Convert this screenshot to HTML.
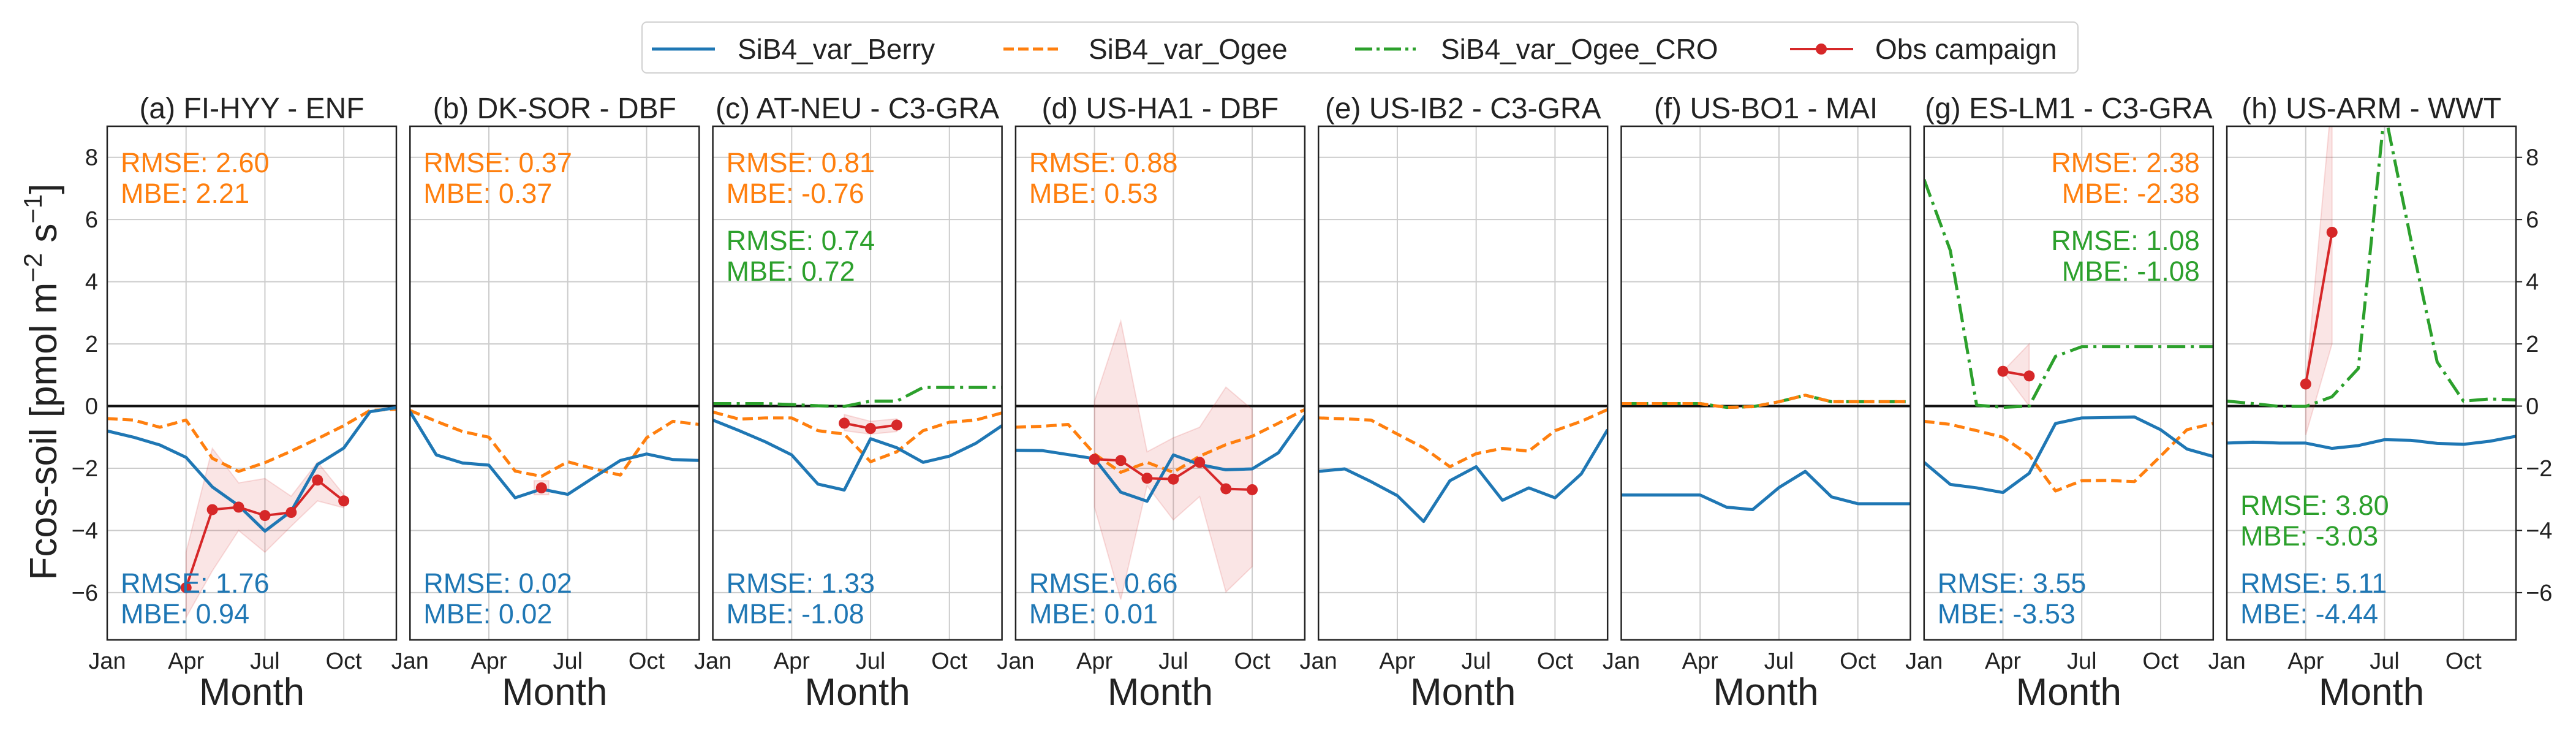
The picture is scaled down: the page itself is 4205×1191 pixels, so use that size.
<!DOCTYPE html>
<html><head><meta charset="utf-8"><style>
html,body{margin:0;padding:0;background:#fff;}
svg text{font-family:"Liberation Sans",Arial,sans-serif;}
</style></head><body>
<svg id="chart" xmlns="http://www.w3.org/2000/svg" width="4205" height="1186" viewBox="0 0 4205 1186">
<rect x="0" y="0" width="4205" height="1186" fill="#fff"/>
<g>
<rect x="1048" y="36" width="2344" height="83" rx="8" fill="#fff" stroke="#d0d0d0" stroke-width="2"/>
<line x1="1064" y1="80" x2="1167" y2="80" stroke="#1f77b4" stroke-width="5"/>
<text x="1204" y="96" font-size="46" fill="#222">SiB4_var_Berry</text>
<line x1="1638" y1="80" x2="1734" y2="80" stroke="#ff7f0e" stroke-width="5" stroke-dasharray="17,7"/>
<text x="1777" y="96" font-size="46" fill="#222">SiB4_var_Ogee</text>
<line x1="2212" y1="80" x2="2311" y2="80" stroke="#2ca02c" stroke-width="5" stroke-dasharray="28,7,5,7"/>
<text x="2352" y="96" font-size="46" fill="#222">SiB4_var_Ogee_CRO</text>
<line x1="2922" y1="80" x2="3025" y2="80" stroke="#d62728" stroke-width="4"/>
<circle cx="2973" cy="80" r="9" fill="#d62728"/>
<text x="3061" y="96" font-size="46" fill="#222">Obs campaign</text>
</g>
<text transform="translate(92,623) rotate(-90)" text-anchor="middle" font-size="62" fill="#222">Fcos-soil [pmol m<tspan font-size="42" dy="-24">−2</tspan><tspan dy="24"> s</tspan><tspan font-size="42" dy="-24">−1</tspan><tspan dy="24">]</tspan></text>
<g id="panels"></g>
</svg>
<script>
const months = ["Jan","Feb","Mar","Apr","May","Jun","Jul","Aug","Sep","Oct","Nov","Dec"];
const yTicks = [-6,-4,-2,0,2,4,6,8];
const xTickMonths = [0,3,6,9];
const xTickLabels = ["Jan","Apr","Jul","Oct"];
const titles = ["(a) FI-HYY - ENF","(b) DK-SOR - DBF","(c) AT-NEU - C3-GRA","(d) US-HA1 - DBF","(e) US-IB2 - C3-GRA","(f) US-BO1 - MAI","(g) ES-LM1 - C3-GRA","(h) US-ARM - WWT"];
const berry = [
[-0.8,-1.0,-1.25,-1.65,-2.6,-3.2,-4.02,-3.38,-1.88,-1.35,-0.18,-0.05],
[-0.18,-1.57,-1.83,-1.9,-2.95,-2.67,-2.84,-2.29,-1.75,-1.54,-1.72,-1.75],
[-0.45,-0.79,-1.15,-1.57,-2.51,-2.7,-1.05,-1.34,-1.81,-1.61,-1.2,-0.63],
[-1.42,-1.43,-1.56,-1.69,-2.77,-3.06,-1.57,-1.88,-2.05,-2.02,-1.5,-0.31],
[-2.1,-2.02,-2.43,-2.88,-3.71,-2.4,-1.95,-3.03,-2.63,-2.95,-2.18,-0.76],
[-2.86,-2.86,-2.86,-2.86,-3.25,-3.33,-2.62,-2.1,-2.92,-3.14,-3.14,-3.14],
[-1.81,-2.52,-2.63,-2.78,-2.16,-0.56,-0.38,-0.37,-0.35,-0.76,-1.38,-1.62],
[-1.19,-1.16,-1.19,-1.19,-1.36,-1.27,-1.08,-1.1,-1.2,-1.23,-1.13,-0.97]];
const ogee = [
[-0.4,-0.45,-0.68,-0.45,-1.68,-2.1,-1.82,-1.45,-1.05,-0.63,-0.14,-0.1],
[-0.14,-0.49,-0.82,-1.0,-2.09,-2.26,-1.79,-2.02,-2.22,-1.02,-0.49,-0.59],
[-0.19,-0.42,-0.38,-0.38,-0.79,-0.9,-1.79,-1.47,-0.79,-0.52,-0.45,-0.22],
[-0.68,-0.65,-0.59,-1.54,-2.13,-1.81,-2.13,-1.61,-1.24,-0.97,-0.55,-0.11],
[-0.38,-0.41,-0.45,-0.9,-1.34,-1.95,-1.53,-1.36,-1.45,-0.79,-0.49,-0.11],
[0.08,0.08,0.08,0.08,-0.04,-0.02,0.14,0.35,0.14,0.14,0.14,0.14],
[-0.49,-0.59,-0.79,-1.0,-1.58,-2.73,-2.4,-2.39,-2.43,-1.61,-0.76,-0.56],
null];
const ogeeCro = [null,null,
[0.08,0.08,0.08,0.05,0.01,-0.01,0.16,0.16,0.6,0.6,0.6,0.6],
null,null,
[0.08,0.08,0.08,0.08,-0.04,-0.02,0.14,0.35,0.14,0.14,0.14,0.14],
[7.29,5.0,0.03,-0.04,0,1.6,1.91,1.91,1.91,1.91,1.91,1.91],
[0.16,0.08,-0.01,-0.01,0.3,1.21,9.5,5.35,1.42,0.16,0.23,0.2]];
const obsMonths = [[3,4,5,6,7,8,9],[5],[5,6,7],[3,4,5,6,7,8,9],[],[],[3,4],[3,4]];
const obsMean = [[-5.84,-3.33,-3.25,-3.52,-3.42,-2.38,-3.05],[-2.63],[-0.55,-0.72,-0.61],[-1.71,-1.75,-2.32,-2.35,-1.81,-2.66,-2.69],[],[],[1.12,0.97],[0.71,5.59]];
const obsLo = [[-6.8,-5.3,-4.0,-4.7,-3.86,-3.05,-3.27],[-2.85],[-0.79,-0.9,-0.82],[-3.25,-6.22,-2.56,-3.66,-2.91,-5.98,-5.16],[],[],[1.12,0.0],[-0.93,2.0]];
const obsHi = [[-4.7,-1.36,-2.47,-2.33,-2.9,-1.8,-2.85],[-2.4],[-0.27,-0.49,-0.41],[0.16,2.73,-1.47,-1.02,-0.68,0.61,-0.11],[],[],[1.12,2.0],[0.7,10]];
const statsOgee = [["2.60","2.21"],["0.37","0.37"],["0.81","-0.76"],["0.88","0.53"],null,null,["2.38","-2.38"],null];
const statsCro = [null,null,["0.74","0.72"],null,null,null,["1.08","-1.08"],["3.80","-3.03"]];
const statsBerry = [["1.76","0.94"],["0.02","0.02"],["1.33","-1.08"],["0.66","0.01"],null,null,["3.55","-3.53"],["5.11","-4.44"]];

const NS="http://www.w3.org/2000/svg";
const PL0=175, PSTEP=494.3, PW=472, PT=206, PB=1044, YMIN=-7.52, YMAX=9.0;
const C={b:"#1f77b4",o:"#ff7f0e",g:"#2ca02c",r:"#d62728"};
function mk(tag,attrs,parent){const e=document.createElementNS(NS,tag);for(const k in attrs)e.setAttribute(k,attrs[k]);parent.appendChild(e);return e;}
const root=document.getElementById("panels");
for(let p=0;p<8;p++){
  const L=PL0+p*PSTEP, R=L+PW;
  const xs=m=>L+m/11*PW;
  const ys=v=>PB-(v-YMIN)/(YMAX-YMIN)*(PB-PT);
  const g=mk("g",{},root);
  
  
  const cid="clip"+p;
  const cp=mk("clipPath",{id:cid},g);mk("rect",{x:L,y:PT,width:PW,height:PB-PT},cp);
  for(const t of yTicks){const l=mk("line",{x1:L,x2:R,y1:ys(t),y2:ys(t),stroke:"#cccccc","stroke-width":2},g);
    
    }
  for(const m of xTickMonths){const l=mk("line",{x1:xs(m),x2:xs(m),y1:PT,y2:PB,stroke:"#cccccc","stroke-width":2},g);
    
    }
  const z=mk("line",{x1:L,x2:R,y1:ys(0),y2:ys(0),stroke:"#111","stroke-width":4},g);
  
  
  const plot=mk("g",{"clip-path":"url(#"+cid+")"},g);
  if(obsMonths[p].length){
    const om=obsMonths[p];
    let pts=om.map((m,i)=>xs(m)+","+ys(obsHi[p][i]));
    pts=pts.concat(om.slice().reverse().map((m,j)=>{const i=om.length-1-j;return xs(m)+","+ys(obsLo[p][i]);}));
    if(om.length===1){const m=om[0];pts=[(xs(m)-12)+","+ys(obsHi[p][0]),(xs(m)+12)+","+ys(obsHi[p][0]),(xs(m)+12)+","+ys(obsLo[p][0]),(xs(m)-12)+","+ys(obsLo[p][0])];}
    const band=mk("polygon",{points:pts.join(" "),fill:"#d62728","fill-opacity":0.12,stroke:"#d62728","stroke-opacity":0.15,"stroke-width":2},plot);
    
    
  }
  const line=(arr,col,dash,name)=>{if(!arr)return;
    const e=mk("polyline",{points:arr.map((v,i)=>xs(i)+","+ys(v)).join(" "),fill:"none",stroke:col,"stroke-width":5,"stroke-dasharray":dash,"stroke-linejoin":"round"},plot);
    
    };
  line(ogeeCro[p],C.g,"30,9,5,9","ogee-cro-line");
  line(ogee[p],C.o,"17,8","ogee-line");
  line(berry[p],C.b,"none","berry-line");
  if(obsMonths[p].length){
    const om=obsMonths[p];
    const ol=mk("polyline",{points:om.map((m,i)=>xs(m)+","+ys(obsMean[p][i])).join(" "),fill:"none",stroke:C.r,"stroke-width":4},plot);
    
    
    om.forEach((m,i)=>{const c=mk("circle",{cx:xs(m),cy:ys(obsMean[p][i]),r:9,fill:C.r},plot);
      
      });
  }
  const fr=mk("rect",{x:L,y:PT,width:PW,height:PB-PT,fill:"none",stroke:"#222","stroke-width":2.5},g);
  
  
  const tt=mk("text",{x:L+PW/2,y:193,"text-anchor":"middle","font-size":48,fill:"#222"},g);tt.textContent=titles[p];
  
  
  xTickMonths.forEach((m,i)=>{const t=mk("text",{x:xs(m),y:1091,"text-anchor":"middle","font-size":38,fill:"#222"},g);t.textContent=xTickLabels[i];
    
    });
  const xt=mk("text",{x:L+PW/2,y:1150,"text-anchor":"middle","font-size":62,fill:"#222"},g);xt.textContent="Month";
  
  
  if(p===0){yTicks.forEach(t=>{const e=mk("text",{x:160,y:ys(t)+13,"text-anchor":"end","font-size":38,fill:"#222"},g);e.textContent=(t<0?"−":"")+Math.abs(t);
    
    });}
  if(p===7){yTicks.forEach(t=>{mk("line",{x1:R,x2:R+10,y1:ys(t),y2:ys(t),stroke:"#222","stroke-width":2},g);
    const e=mk("text",{x:R+16,y:ys(t)+13,"font-size":38,fill:"#222"},g);e.textContent=(t<0?"−":"")+Math.abs(t);
    
    });}
  const ann=(st,col,y1,name,right)=>{if(!st)return;
    const ax=right?R-22:L+22, anc=right?"end":"start";
    const a=mk("text",{x:ax,y:y1,"text-anchor":anc,"font-size":45,fill:col},g);a.textContent="RMSE: "+st[0];
    
    
    const b=mk("text",{x:ax,y:y1+50,"text-anchor":anc,"font-size":45,fill:col},g);b.textContent="MBE: "+st[1];
    
    };
  ann(statsOgee[p],C.o,281,"ogee-stats",p===6);
  ann(statsCro[p],C.g,p===7?840:408,"ogee-cro-stats",p===6);
  ann(statsBerry[p],C.b,967,"berry-stats",false);
}
</script>
</body></html>
